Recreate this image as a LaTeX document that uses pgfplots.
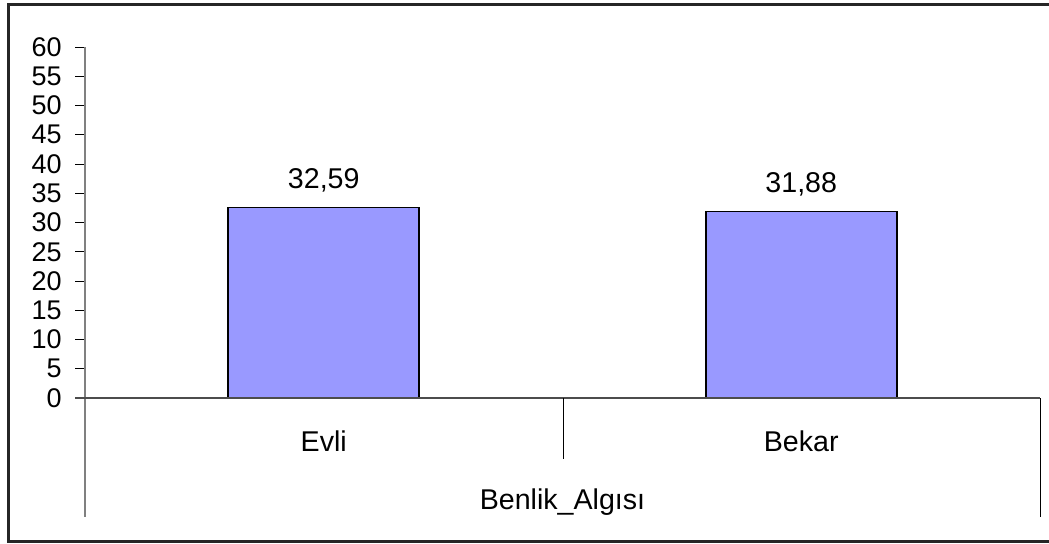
\documentclass[border=0pt]{standalone}
\usepackage{fontspec}
\setmainfont{Liberation Sans}
\usepackage{pgfplots}
\pgfplotsset{compat=1.18}
\definecolor{barblue}{HTML}{9999FF}
\definecolor{axgray}{HTML}{808080}

\begin{document}
\begin{tikzpicture}
% page = 1049x543 px, 1 px = 0.5pt
\path[use as bounding box] (0,0) rectangle (524.5pt,271.5pt);
\draw[overlay, line width=1.5pt, black!85] (4pt,269.5pt) rectangle (530pt,1pt);

\begin{axis}[
    at={(42.5pt,72.5pt)}, anchor=south west,
    scale only axis,
    width=477.5pt, height=175.5pt,
    xmin=-0.5, xmax=1.5,
    ymin=0, ymax=60,
    ytick={0,5,...,60},
    xtick={0,1},
    xticklabels={Evli,Bekar},
    axis line style={draw=none},
    ytick pos=left,
    tick align=outside,
    major tick length=5pt,
    ytick style={black, line width=0.5pt},
    xtick style={draw=none},
    /pgf/number format/assume math mode=true,
    yticklabel style={font=\fontsize{13.5}{16}\selectfont, anchor=east, inner sep=0pt, xshift=-6.5pt},
    xticklabel style={font=\fontsize{14.3}{17}\selectfont, anchor=base, inner sep=0pt, yshift=-21.5pt},
    xlabel={Benlik\_Algısı},
    xlabel style={font=\fontsize{14.3}{17}\selectfont, at={(axis description cs:0.5,0)}, anchor=base, inner sep=0pt, yshift=-55.5pt},
    clip=false,
    ybar, bar width=95.5pt,
    nodes near coords,
    nodes near coords style={font=\fontsize{14.3}{17}\selectfont, anchor=base, inner sep=0pt, yshift=9.3pt,
        /pgf/number format/.cd, fixed, fixed zerofill, precision=2, use comma, assume math mode=true},
]
\addplot[fill=barblue, draw=black, line width=0.8pt] coordinates {(0,32.59) (1,31.88)};
\end{axis}

% axis lines and category separators
\draw[axgray, line width=1pt] (42.5pt,248pt) -- (42.5pt,13pt);
\draw[black!70, line width=0.6pt] (37.5pt,72.5pt) -- (520pt,72.5pt);
\draw[black, line width=0.5pt] (281.5pt,72.5pt) -- (281.5pt,42pt);
\draw[black, line width=0.5pt] (520pt,72.5pt) -- (520pt,13pt);
\end{tikzpicture}
\end{document}
